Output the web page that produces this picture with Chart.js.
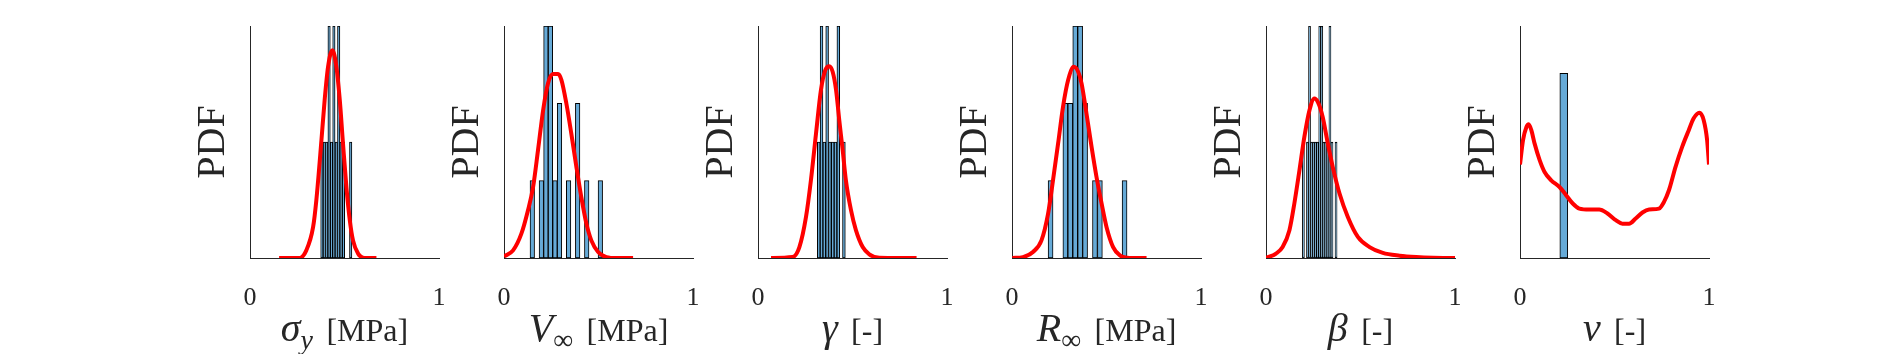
<!DOCTYPE html>
<html>
<head>
<meta charset="utf-8">
<script src="https://cdn.jsdelivr.net/npm/chart.js@4/dist/chart.umd.min.js"></script>
<style>
  body { margin: 0; background: #fff; width: 1890px; height: 354px; position: relative; overflow: hidden; }
  canvas { position: absolute; top: 0; }
  .xl { position: absolute; top: 312px; width: 189px; text-align: center; font-family: "Liberation Serif", serif; font-size: 32px; line-height: 36px; color: #262626; white-space: nowrap; }
  .xl .s { font-size: 40px; line-height: 0; }
  .xl sub { font-size: 28px; vertical-align: -0.3em; line-height: 0; }
  .xl .u { margin-left: 0.42em; }
</style>
</head>
<body>
<script>
// axis labels (symbol, subscript, unit)
const symbols = ["σ", "V", "γ", "R", "β", "ν"];
const subscripts = ["y", "∞", "", "∞", "", ""];
const units = ["[MPa]", "[MPa]", "[-]", "[MPa]", "[-]", "[-]"];
const xTicks = [0, 1];

// histograms: first bin edge, bin width, counts, count at top of axis
const binStart = [0.374, 0.1377, 0.314, 0.191, 0.1925, 0.1687];
const binWidth = [0.0127, 0.0240, 0.0148, 0.0261, 0.0108, 0.042];
const countsSigma = [1, 1, 1, 2, 1, 2, 1, 2, 1, 1, 0, 0, 1];
const countsVinf = [1, 0, 1, 3, 3, 1, 2, 0, 1, 0, 2, 0, 1, 0, 0, 1];
const countsGamma = [1, 2, 1, 2, 1, 1, 1, 2, 0, 1];
const countsRinf = [1, 0, 0, 2, 2, 3, 3, 2, 0, 1, 1, 0, 0, 0, 0, 1];
const countsBeta = [1, 0, 1, 2, 1, 1, 1, 1, 2, 2, 1, 1, 1, 2, 1, 0, 1];
const countsNu = [0, 1, 0];
const countTop = [2, 3, 2, 3, 2, 1.256];

// density curves (y as share of the axis height)
const curveSigmaX = [0.154, 0.263, 0.298, 0.334, 0.351, 0.378, 0.395, 0.413, 0.436, 0.457, 0.475, 0.492, 0.510, 0.528, 0.545, 0.572, 0.607, 0.669];
const curveSigmaY = [0, 0, 0.033, 0.134, 0.249, 0.508, 0.681, 0.824, 0.896, 0.824, 0.681, 0.494, 0.306, 0.163, 0.076, 0.019, 0, 0];
const curveVinfX = [0, 0.048, 0.092, 0.127, 0.154, 0.180, 0.207, 0.233, 0.259, 0.286, 0.304, 0.330, 0.356, 0.383, 0.409, 0.436, 0.462, 0.498, 0.542, 0.595, 0.683];
const curveVinfY = [0.007, 0.033, 0.105, 0.206, 0.306, 0.465, 0.637, 0.753, 0.793, 0.793, 0.767, 0.666, 0.537, 0.393, 0.263, 0.148, 0.076, 0.026, 0.004, 0, 0];
const curveGammaX = [0.069, 0.183, 0.219, 0.254, 0.280, 0.307, 0.333, 0.356, 0.377, 0.395, 0.413, 0.430, 0.448, 0.465, 0.492, 0.518, 0.554, 0.589, 0.642, 0.748, 0.839];
const curveGammaY = [0, 0.004, 0.047, 0.177, 0.335, 0.537, 0.724, 0.810, 0.827, 0.803, 0.724, 0.594, 0.465, 0.335, 0.206, 0.120, 0.047, 0.016, 0.001, 0, 0];
const curveRinfX = [0.002, 0.058, 0.111, 0.156, 0.191, 0.217, 0.244, 0.270, 0.297, 0.327, 0.350, 0.368, 0.394, 0.421, 0.447, 0.474, 0.500, 0.535, 0.571, 0.624, 0.712];
const curveRinfY = [0, 0.004, 0.026, 0.076, 0.191, 0.335, 0.494, 0.652, 0.767, 0.824, 0.803, 0.753, 0.623, 0.479, 0.350, 0.235, 0.134, 0.047, 0.011, 0, 0];
const curveBetaX = [0, 0.053, 0.088, 0.124, 0.150, 0.177, 0.203, 0.230, 0.256, 0.274, 0.300, 0.327, 0.353, 0.389, 0.433, 0.486, 0.548, 0.618, 0.707, 0.795, 0.884, 1.0];
const curveBetaY = [0, 0.019, 0.047, 0.120, 0.235, 0.378, 0.522, 0.637, 0.688, 0.673, 0.608, 0.494, 0.393, 0.278, 0.177, 0.091, 0.047, 0.022, 0.010, 0.004, 0.001, 0];
const curveNuX = [0, 0.016, 0.034, 0.046, 0.060, 0.077, 0.104, 0.130, 0.165, 0.209, 0.244, 0.279, 0.314, 0.367, 0.419, 0.463, 0.507, 0.542, 0.577, 0.612, 0.648, 0.683, 0.735, 0.762, 0.788, 0.823, 0.858, 0.893, 0.919, 0.949, 0.972, 0.990, 1.0];
const curveNuY = [0.403, 0.508, 0.565, 0.577, 0.551, 0.494, 0.422, 0.371, 0.335, 0.306, 0.271, 0.235, 0.213, 0.209, 0.209, 0.192, 0.163, 0.148, 0.148, 0.170, 0.196, 0.209, 0.213, 0.242, 0.292, 0.393, 0.479, 0.551, 0.602, 0.626, 0.594, 0.508, 0.403];

const allCounts = [countsSigma, countsVinf, countsGamma, countsRinf, countsBeta, countsNu];
const allCurveX = [curveSigmaX, curveVinfX, curveGammaX, curveRinfX, curveBetaX, curveNuX];
const allCurveY = [curveSigmaY, curveVinfY, curveGammaY, curveRinfY, curveBetaY, curveNuY];

const FONT = "'Liberation Serif', serif";
const INK = "#262626";
const AXW = 189, LEFTPAD = 60, RIGHTPAD = 14;

for (let i = 0; i < 6; i++) {
  const axisLeft = 250 + 254 * i;

  const cv = document.createElement("canvas");
  cv.width = LEFTPAD + AXW + RIGHTPAD;
  cv.height = 354;
  cv.style.left = (axisLeft - LEFTPAD) + "px";
  document.body.appendChild(cv);

  const bars = allCounts[i].map((c, k) => ({ x: binStart[i] + (k + 0.5) * binWidth[i], y: c || null }));
  const curve = allCurveX[i].map((x, k) => ({ x: x, y: allCurveY[i][k] }));

  new Chart(cv.getContext("2d"), {
    type: "bar",
    data: {
      datasets: [
        {
          type: "line", data: curve, yAxisID: "yc", order: 0,
          borderColor: "#ff0000", borderWidth: 4, pointRadius: 0,
          cubicInterpolationMode: "monotone", fill: false
        },
        {
          type: "bar", data: bars, yAxisID: "y", order: 1,
          backgroundColor: "#66aad7", borderColor: "#000000", borderWidth: 1,
          barPercentage: 1, categoryPercentage: 1, borderSkipped: false
        }
      ]
    },
    options: {
      responsive: false,
      animation: false,
      events: [],
      layout: { padding: { top: 26, right: RIGHTPAD, left: 0, bottom: 0 } },
      plugins: { legend: { display: false }, tooltip: { enabled: false } },
      scales: {
        x: {
          type: "linear", min: 0, max: 1, offset: false,
          grid: { display: false },
          border: { display: true, color: INK, width: 1 },
          ticks: {
            stepSize: 1, padding: 17, color: INK, maxRotation: 0,
            font: { family: FONT, size: 26 },
            callback: v => (xTicks.includes(v) ? String(v) : "")
          },
          afterFit: s => { s.height = 96; s.paddingLeft = 0; s.paddingRight = 0; }
        },
        y: {
          min: 0, max: countTop[i],
          grid: { display: false },
          border: { display: true, color: INK, width: 1 },
          ticks: { display: false },
          title: {
            display: true, text: "PDF", color: INK,
            font: { family: FONT, size: 40, lineHeight: 1 },
            padding: { top: 3, bottom: 0 }
          },
          afterFit: s => { s.width = LEFTPAD; s.paddingTop = 0; s.paddingBottom = 0; }
        },
        yc: { min: 0, max: 1, display: false }
      }
    }
  });

  const lab = document.createElement("div");
  lab.className = "xl";
  lab.style.left = axisLeft + "px";
  const sub = subscripts[i];
  const subHtml = sub ? (/[a-z]/.test(sub) ? `<sub><i>${sub}</i></sub>` : `<sub>${sub}</sub>`) : "";
  lab.innerHTML = `<i class="s">${symbols[i]}</i>${subHtml}<span class="u">${units[i]}</span>`;
  document.body.appendChild(lab);
}
</script>
</body>
</html>
